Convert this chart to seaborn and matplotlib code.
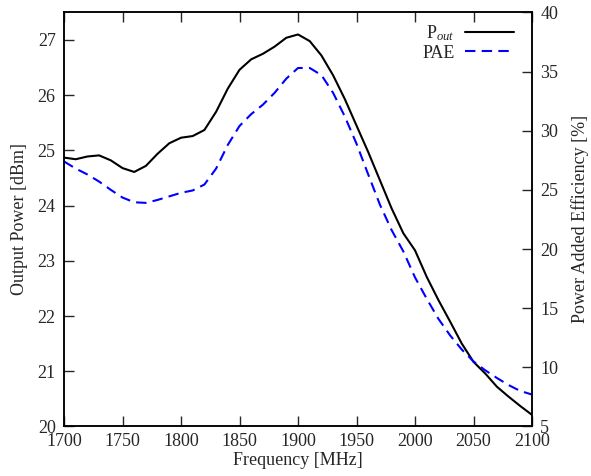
import matplotlib
matplotlib.use("Agg")
import matplotlib.pyplot as plt
import seaborn as sns
import pandas as pd

freq = [1700, 1710, 1720, 1730, 1740, 1750, 1760, 1770, 1780, 1790,
        1800, 1810, 1820, 1830, 1840, 1850, 1860, 1870, 1880, 1890,
        1900, 1910, 1920, 1930, 1940, 1950, 1960, 1970, 1980, 1990,
        2000, 2010, 2020, 2030, 2040, 2050, 2060, 2070, 2080, 2090, 2100]
pout = [24.87, 24.84, 24.89, 24.91, 24.82, 24.68, 24.61, 24.72, 24.94, 25.13,
        25.23, 25.26, 25.37, 25.70, 26.12, 26.46, 26.65, 26.75, 26.88, 27.04,
        27.10, 26.98, 26.72, 26.36, 25.93, 25.45, 24.97, 24.46, 23.95, 23.50,
        23.19, 22.71, 22.29, 21.90, 21.50, 21.17, 20.96, 20.72, 20.54, 20.37, 20.21]
pae = [27.4, 26.8, 26.3, 25.7, 25.0, 24.35, 23.95, 23.9, 24.15, 24.45,
       24.75, 24.95, 25.45, 26.8, 28.8, 30.4, 31.4, 32.2, 33.2, 34.4,
       35.3, 35.3, 34.7, 33.2, 31.2, 28.9, 26.3, 23.75, 21.6, 19.8,
       17.6, 15.8, 14.1, 12.7, 11.5, 10.5, 9.75, 9.1, 8.5, 8.0, 7.7]

x_ticks = [1700, 1750, 1800, 1850, 1900, 1950, 2000, 2050, 2100]
left_ticks = [20, 21, 22, 23, 24, 25, 26, 27]
right_ticks = [5, 10, 15, 20, 25, 30, 35, 40]

df = pd.DataFrame({"freq": freq, "pout": pout, "pae": pae})

sns.set_style("ticks")
plt.rcParams["font.family"] = ["Liberation Serif", "DejaVu Serif"]
plt.rcParams["mathtext.fontset"] = "custom"
plt.rcParams["mathtext.rm"] = "Liberation Serif"
plt.rcParams["mathtext.it"] = "Liberation Serif:italic"
FS = 13
plt.rcParams["font.size"] = FS

fig = plt.figure(figsize=(5.91, 4.76), dpi=100)
ax = fig.add_axes([0.1083, 0.104, 0.7919, 0.870])
ax2 = ax.twinx()

sns.lineplot(data=df, x="freq", y="pout", ax=ax, color="black", lw=1.5,
             label=r"P$_{out}$", legend=False)
sns.lineplot(data=df, x="freq", y="pae", ax=ax2, color="#0000ff", lw=1.5,
             label="PAE", legend=False, dashes=False)
ax2.lines[0].set_dashes((5, 3))

ax.set_xlim(1700, 2100)
ax.set_ylim(20, 27.5)
ax2.set_ylim(5, 40)
ax.set_xticks(x_ticks)
ax.set_yticks(left_ticks)
ax2.set_yticks(right_ticks)

ax.set_xlabel("Frequency [MHz]", fontsize=FS, labelpad=1)
ax.set_ylabel("Output Power [dBm]", fontsize=FS, labelpad=7)
ax2.set_ylabel("Power Added Efficiency [%]", fontsize=FS, labelpad=9)

for a in (ax, ax2):
    for s in a.spines.values():
        s.set_linewidth(1.1)
        s.set_color("black")
ax.tick_params(axis="x", direction="in", length=7, width=1, top=True, labelsize=FS, pad=5)
ax.tick_params(axis="y", direction="in", length=7, width=1, labelsize=FS, pad=6)
ax2.tick_params(axis="y", direction="in", length=7, width=1, labelsize=FS, pad=6)

h1, l1 = ax.get_legend_handles_labels()
h2, l2 = ax2.get_legend_handles_labels()
ax2.legend(h1 + h2, l1 + l2, loc="upper right", frameon=False, markerfirst=False,
           handlelength=2.7, handletextpad=0.6, labelspacing=0.1,
           borderaxespad=0.2, bbox_to_anchor=(0.985, 1.0), fontsize=FS)

fig.savefig("out.png", dpi=100)
